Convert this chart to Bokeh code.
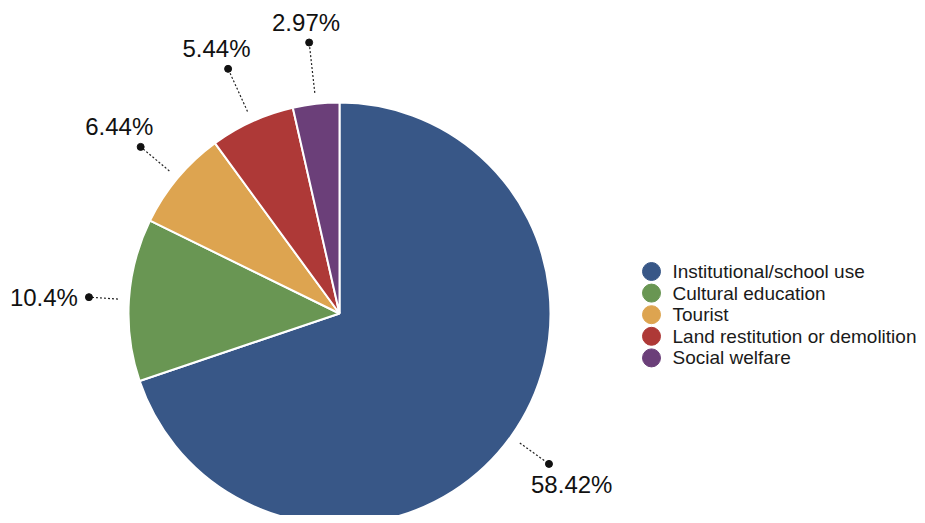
import math
from bokeh.plotting import figure
from bokeh.models import Range1d, ColumnDataSource
from bokeh.embed import file_html
from bokeh.resources import INLINE
from bokeh.core.properties import value

categories = ["Institutional/school use", "Cultural education", "Tourist",
              "Land restitution or demolition", "Social welfare"]
percents = [58.42, 10.4, 6.44, 5.44, 2.97]
labels = ["58.42%", "10.4%", "6.44%", "5.44%", "2.97%"]
colors = ["#385787", "#699653", "#DDA450", "#AE3937", "#6B3F79"]

W, H = 925, 515
FONT = "Liberation Sans"

p = figure(width=W, height=H, x_range=Range1d(0, W), y_range=Range1d(523 - H, 523),
           output_backend="svg", toolbar_location=None, min_border=0,
           x_axis_location=None, y_axis_location=None)
p.grid.visible = False
p.outline_line_color = None
p.background_fill_color = "white"

cx, cy, r = 339, 210, 211
total = sum(percents)

starts, ends, mids = [], [], []
acc = 0.0
for v in percents:
    t1 = acc / total * 2 * math.pi
    acc += v
    t2 = acc / total * 2 * math.pi
    starts.append(math.pi / 2 - t2)
    ends.append(math.pi / 2 - t1)
    mids.append((t1 + t2) / 2)

src = ColumnDataSource(dict(start=starts, end=ends, color=colors, cat=categories))
p.wedge(x=cx, y=cy, radius=r, start_angle="start", end_angle="end", direction="anticlock",
        fill_color="color", line_color="white", line_width=2, source=src)

# leader lines, dots, labels
a_ell, b_ell = r + 40, r + 62
lx0, ly0, lx1, ly1 = [], [], [], []
tx, ty, talign = [], [], []
for m, lab in zip(mids, labels):
    s, c = math.sin(m), math.cos(m)
    rd = 1.0 / math.sqrt(s * s / a_ell ** 2 + c * c / b_ell ** 2)
    x0, y0 = cx + (r + 11) * s, cy + (r + 11) * c
    x1, y1 = cx + rd * s, cy + rd * c
    lx0.append(x0); ly0.append(y0); lx1.append(x1); ly1.append(y1)
    if abs(s) > 0.9:
        tx.append(x1 - 11 if s < 0 else x1 + 11)
        ty.append(y1)
        talign.append("right" if s < 0 else "left")
    else:
        tx.append(x1 + 28 * s)
        ty.append(y1 + 20 if c > 0 else y1 - 21)
        talign.append("center")

p.segment(x0=lx0, y0=ly0, x1=lx1, y1=ly1, line_color="#222222", line_width=1.2,
          line_dash="2 2")
p.scatter(x=lx1, y=ly1, size=7, color="#111111")
lsrc = ColumnDataSource(dict(x=tx, y=ty, text=labels, align=talign))
p.text(x="x", y="y", text="text", text_align="align", text_baseline="middle",
       text_font=value(FONT), text_font_size="24px", text_color="#111111", source=lsrc)

# legend
leg_x = 651
leg_y0 = 523 - 271
leg_dy = 21.6
ly = [leg_y0 - i * leg_dy for i in range(len(categories))]
p.scatter(x=[leg_x] * len(categories), y=ly, size=18, color=colors)
p.text(x=[leg_x + 21] * len(categories), y=ly, text=categories, text_align="left",
       text_baseline="middle", text_font=value(FONT), text_font_size="19px",
       text_color="#1a1a1a")

open("out.html", "w").write(file_html(p, INLINE))
